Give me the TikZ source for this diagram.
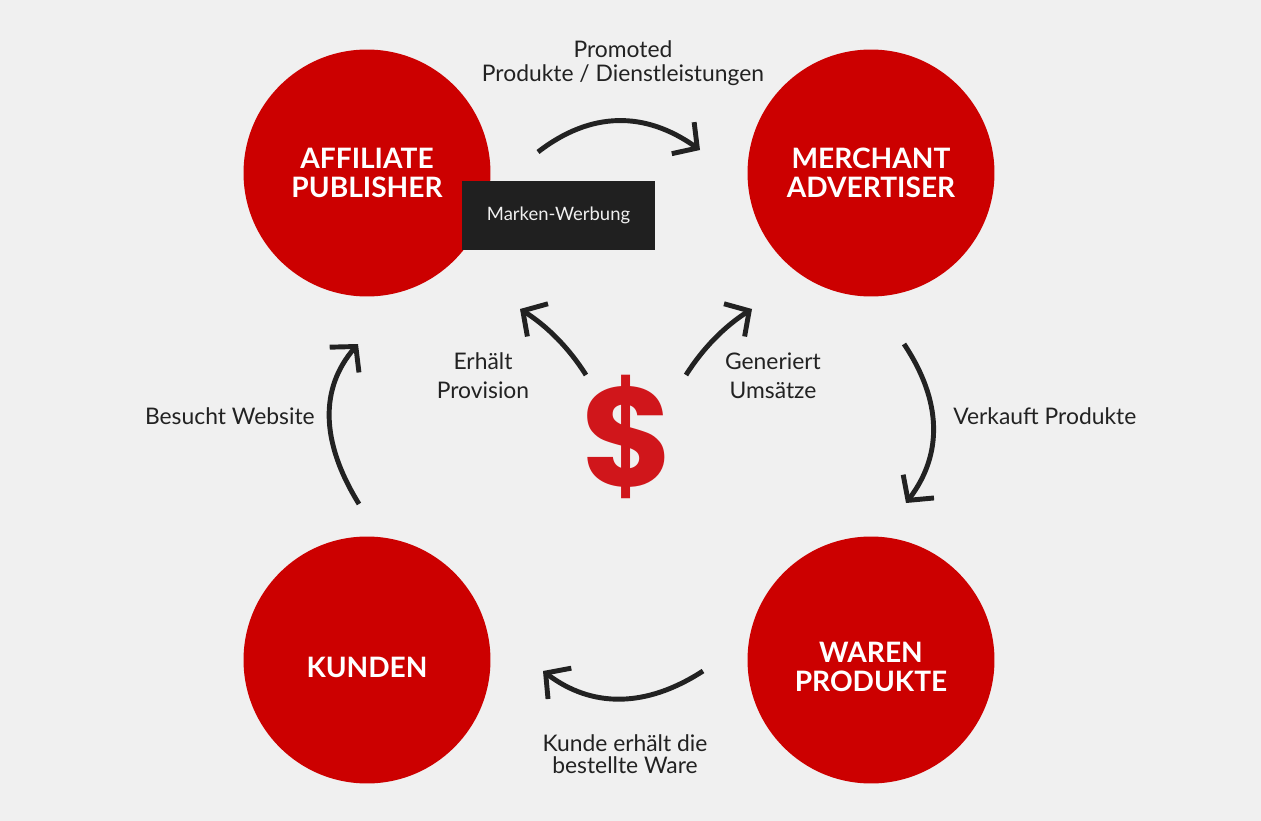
\documentclass[tikz,border=0pt]{standalone}
\usepackage{fontspec}
\setmainfont{Lato}
\newfontfamily\dollarfont{Poppins}
\usetikzlibrary{arrows.meta}
\definecolor{bgcol}{HTML}{F0F0F0}
\definecolor{circred}{HTML}{CC0000}
\definecolor{dollred}{HTML}{D0161B}
\definecolor{ink}{HTML}{222222}
\definecolor{boxcol}{HTML}{202020}
\tikzset{
    party/.style={circle, fill=circred, minimum size=4.94cm, inner sep=0pt},
    partytext/.style={text=white, align=center, inner sep=0pt,
    	font=\bfseries\fontsize{16}{16.5}\selectfont},
    note/.style={text=ink, align=center, inner sep=0pt,
    	font=\fontsize{13}{14}\selectfont},
    flow/.style={draw=ink, line width=2.8pt,
    	-{Straight Barb[length=10pt, width=22pt]}}
}

\begin{document}
\begin{tikzpicture}[x=0.02cm, y=-0.02cm]
	\fill[bgcol] (0,0) rectangle (1261,821);
	\useasboundingbox (0,0) rectangle (1261,821);

	\node (1) [party] at (367,173) {};
	\node (2) [party] at (871,173) {};
	\node (3) [party] at (871,660) {};
	\node (4) [party] at (367,660) {};
	\node (1t) [partytext] at (367,173) {AFFILIATE\\PUBLISHER};
	\node (2t) [partytext] at (871,173) {MERCHANT\\ADVERTISER};
	\node (3t) [partytext] at (871,666.5) {WAREN\\PRODUKTE};
	\node (4t) [partytext] at (367,667) {KUNDEN};
	\node (box) [fill=boxcol, text=bgcol, minimum width=3.86cm, minimum height=1.38cm,
		font=\fontsize{10.5}{12}\selectfont] at (558.5,215.5) {Marken-Werbung};
	\node (usd) [text=dollred, font=\dollarfont\bfseries\fontsize{80}{80}\selectfont] at (628,437) {\$};

	\node (promo) [note, font=\fontsize{13}{13.6}\selectfont] at (623,63) {Promoted\\Produkte / Dienstleistungen};
	\node (prov) [note, font=\fontsize{13}{16.4}\selectfont] at (483,376) {Erhält\\Provision};
	\node (ums) [note, font=\fontsize{13}{16.4}\selectfont] at (773,376) {Generiert\\Umsätze};
	\node (sell) [note, anchor=west] at (953,416) {Verkauft Produkte};
	\node (visit) [note, anchor=east] at (315,416) {Besucht Website};
	\node (ship) [note, font=\fontsize{13}{12.5}\selectfont] at (625,754) {Kunde erhält die\\bestellte Ware};

	% arrow ends
	\coordinate (a1) at (538,152); \coordinate (b1) at (700,150);
	\coordinate (a2) at (904,344); \coordinate (b2) at (906,503);
	\coordinate (a3) at (703,671); \coordinate (b3) at (543,671);
	\coordinate (a4) at (359,504); \coordinate (b4) at (358,344);
	\coordinate (a5) at (586,375); \coordinate (b5) at (520,309);
	\coordinate (a6) at (686,375); \coordinate (b6) at (752,309);

	\draw[flow] (a1) .. controls (591,111) and (645,111) .. (b1);
	\draw[flow] (a2) .. controls (942,401) and (943,454) .. (b2);
	\draw[flow] (a3) .. controls (646,708) and (592,708) .. (b3);
	\draw[flow] (a4) .. controls (320,441) and (320,388) .. (b4);
	\draw[flow] (a5) .. controls (569,348) and (547,326) .. (b5);
	\draw[flow] (a6) .. controls (703,348) and (725,326) .. (b6);
\end{tikzpicture}
\end{document}
